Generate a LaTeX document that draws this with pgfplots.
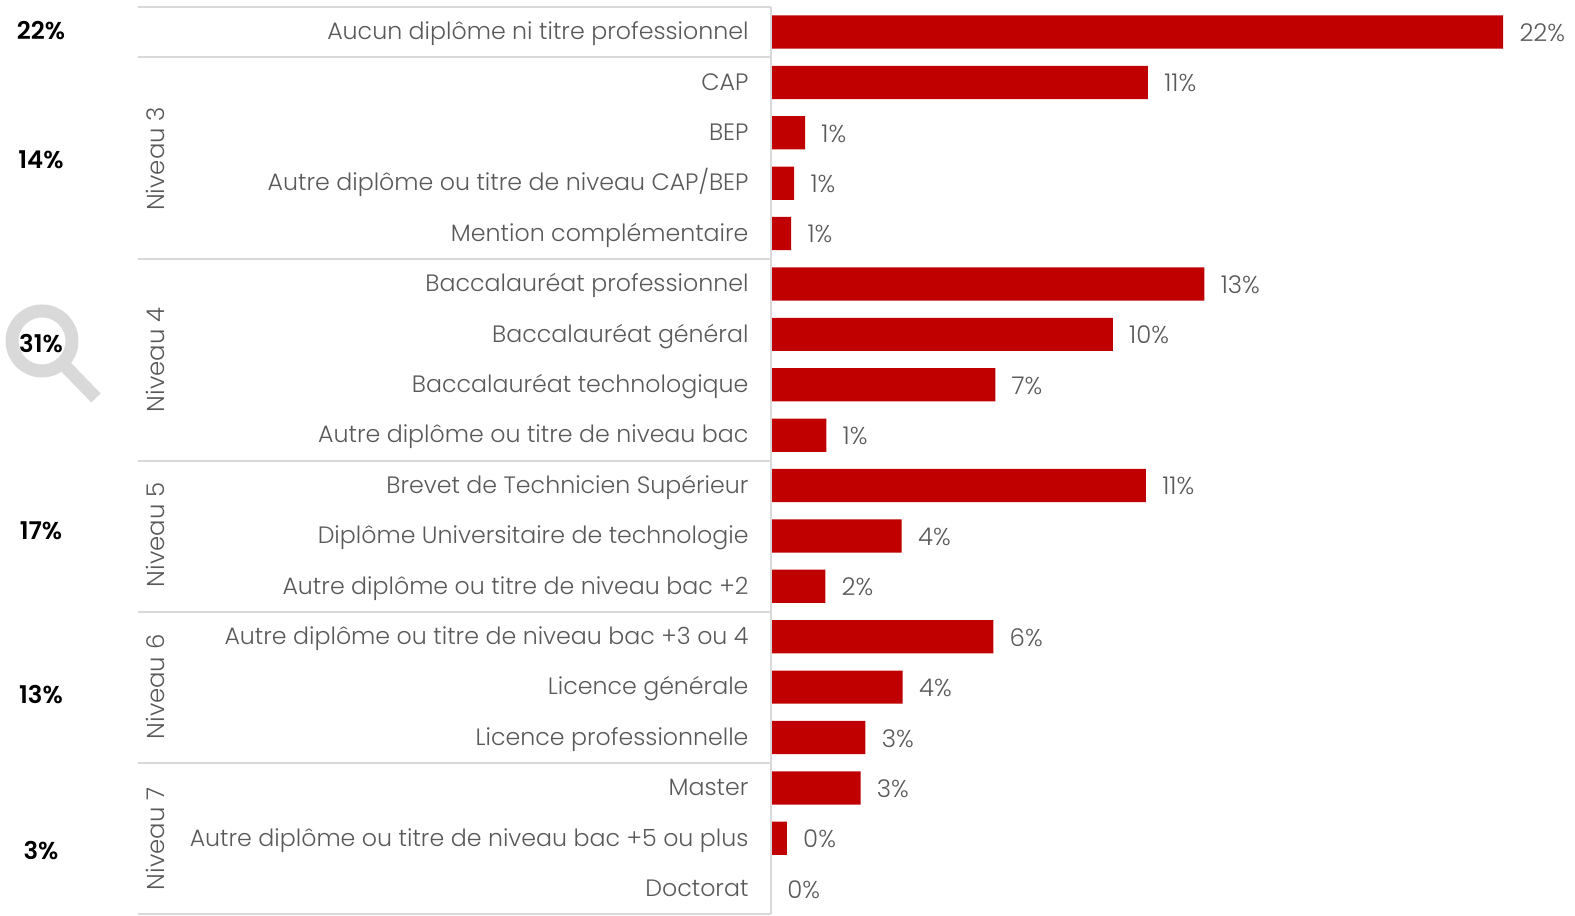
\documentclass[border=0pt]{standalone}
\usepackage{fontspec}
\setmainfont{Poppins}[UprightFont=* Light,BoldFont=* SemiBold]
\usepackage{pgfplots}
\pgfplotsset{compat=1.18}
\definecolor{barred}{HTML}{C00000}
\definecolor{rulegray}{HTML}{D9D9D9}
\definecolor{textgray}{HTML}{595959}
\newcommand{\lab}{\fontsize{11.85}{14}\selectfont}
\newcommand{\val}{\fontsize{12.2}{14}\selectfont}
% picture coordinates are reference pixels, y downwards
\begin{document}
\begin{tikzpicture}[x=0.5pt,y=-0.5pt]
  \path (0,0) rectangle (1575,916);
  % magnifier behind the 31%
  \draw[rulegray,line width=6.5pt] (42,341) circle (30);
  \draw[rulegray,line width=6.5pt] (65,366) -- (96,398);
  \begin{axis}[
      at={(385.5pt,0pt)},anchor=north west,
      scale only axis,width=402pt,height=458pt,
      xbar,bar width=16.6pt,
      xmin=0,xmax=24.22,
      y dir=reverse,ymin=-0.635,ymax=17.54,
      clip=false,
      axis line style={draw=none},
      major tick length=0pt,
      xtick=\empty,
      ytick={0,...,17},
      yticklabels={Aucun diplôme ni titre professionnel,CAP,BEP,Autre diplôme ou titre de niveau CAP/BEP,Mention complémentaire,Baccalauréat professionnel,Baccalauréat général,Baccalauréat technologique,Autre diplôme ou titre de niveau bac,Brevet de Technicien Supérieur,Diplôme Universitaire de technologie,Autre diplôme ou titre de niveau bac +2,Autre diplôme ou titre de niveau bac +3 ou 4,Licence générale,Licence professionnelle,Master,Autre diplôme ou titre de niveau bac +5 ou plus,Doctorat},
      yticklabel style={font=\lab,text=textgray,inner sep=0pt,anchor=east,xshift=-11pt,yshift=-0.9pt,text height=1.5ex,text depth=0.4ex},
      /pgf/number format/assume math mode=true,
      nodes near coords={\pgfmathprintnumber[precision=0]{\pgfplotspointmeta}\%},
      nodes near coords style={font=\val,text=textgray,inner sep=0pt,anchor=west,xshift=8pt,yshift=-0.4pt},
      point meta=explicit,
    ]
    \addplot[fill=barred,draw=none] table[x=v,y=r,meta=m] {
      r  v      m
      0  22.06  22
      1  11.36  11
      2  1.03   1
      3  0.70   1
      4  0.61   1
      5  13.06  13
      6  10.30  10
      7  6.76   7
      8  1.67   1
      9  11.30  11
      10 3.94   4
      11 1.64   2
      12 6.70   6
      13 3.97   4
      14 2.85   3
      15 2.70   3
      16 0.48   0
      17 0      0
    };
  \end{axis}
  % group rules and axis line
  \foreach \y in {7,57,259,461,612,763,914}
    \draw[rulegray,line width=1pt] (138,\y) -- (771,\y);
  \draw[rulegray,line width=1pt] (771,7) -- (771,914);
  % group names
  \foreach \y/\t in {159/3,360/4,535/5,687/6,839/7}
    \node[rotate=90,text=textgray,font=\val,inner sep=0pt] at (155,\y) {Niveau \t};
  % group totals
  \foreach \y/\t in {31/22,160/14,344/31,531/17,695/13,851/3}
    \node[font=\val\bfseries,text=black,inner sep=0pt] at (41,\y) {\t\%};
\end{tikzpicture}
\end{document}
